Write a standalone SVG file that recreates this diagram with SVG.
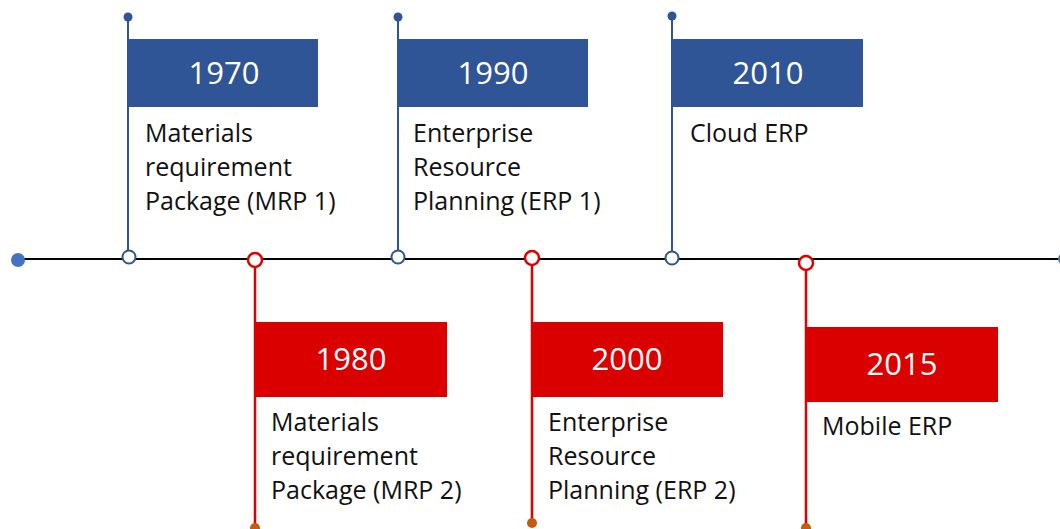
<svg xmlns="http://www.w3.org/2000/svg" width="1060" height="529" viewBox="0 0 1060 529">
<style>
.bl{stroke:#2F5597;stroke-width:2;fill:none}
.rd{stroke:#E00000;stroke-width:2.5;fill:none}
.bbox{fill:#2F5597}
.rbox{fill:#DA0000}
.yr{font-family:"Open Sans","Liberation Sans",sans-serif;font-size:31px;fill:#fff;text-anchor:middle}
.lb{font-family:"Open Sans","Liberation Sans",sans-serif;font-size:25px;fill:#111}
.oc-b{fill:#fff;stroke:#2F5597;stroke-width:2}
.oc-r{fill:#fff;stroke:#E00000;stroke-width:2.5}
.td{fill:#2F5597}
.bd{fill:#C55A11}
</style>
<g id="connectors">
<line x1="18" y1="259" x2="1060" y2="259" stroke="#000" stroke-width="2"/>
<circle cx="18" cy="260" r="7" fill="#4472C4"/>
<circle cx="1064" cy="259" r="6" fill="#4472C4"/>
<line class="bl" x1="128" y1="17" x2="128" y2="251"/>
<line class="bl" x1="398" y1="17" x2="398" y2="251"/>
<line class="bl" x1="672" y1="16" x2="672" y2="251"/>
<line class="rd" x1="255" y1="267" x2="255" y2="527"/>
<line class="rd" x1="532" y1="266" x2="532" y2="523"/>
<line class="rd" x1="806" y1="269" x2="806" y2="527"/>
</g>
<g id="n1970">
<circle class="td" cx="128" cy="17" r="4.5"/>
<rect class="bbox" x="128" y="39" width="190" height="68"/>
<text class="yr" x="224" y="84">1970</text>
<text class="lb" x="145" y="142">Materials</text>
<text class="lb" x="145" y="176">requirement</text>
<text class="lb" x="145" y="210">Package (MRP 1)</text>
<circle class="oc-b" cx="129" cy="257" r="6.5"/>
</g>
<g id="n1990">
<circle class="td" cx="398" cy="17" r="4.5"/>
<rect class="bbox" x="398" y="39" width="190" height="68"/>
<text class="yr" x="493" y="84">1990</text>
<text class="lb" x="413" y="142">Enterprise</text>
<text class="lb" x="413" y="176">Resource</text>
<text class="lb" x="413" y="210">Planning (ERP 1)</text>
<circle class="oc-b" cx="398" cy="257" r="6.5"/>
</g>
<g id="n2010">
<circle class="td" cx="672" cy="16" r="4.5"/>
<rect class="bbox" x="673" y="39" width="190" height="68"/>
<text class="yr" x="768" y="84">2010</text>
<text class="lb" x="690" y="142">Cloud ERP</text>
<circle class="oc-b" cx="672" cy="258" r="6.5"/>
</g>
<g id="n1980">
<circle class="oc-r" cx="255" cy="260" r="7"/>
<rect class="rbox" x="255" y="322" width="192" height="75"/>
<text class="yr" x="351" y="370">1980</text>
<text class="lb" x="271" y="431">Materials</text>
<text class="lb" x="271" y="465">requirement</text>
<text class="lb" x="271" y="499">Package (MRP 2)</text>
<circle class="bd" cx="255" cy="528" r="5"/>
</g>
<g id="n2000">
<circle class="oc-r" cx="532" cy="258" r="7"/>
<rect class="rbox" x="532" y="322" width="191" height="75"/>
<text class="yr" x="627" y="370">2000</text>
<text class="lb" x="548" y="431">Enterprise</text>
<text class="lb" x="548" y="465">Resource</text>
<text class="lb" x="548" y="499">Planning (ERP 2)</text>
<circle class="bd" cx="532" cy="523" r="5"/>
</g>
<g id="n2015">
<circle class="oc-r" cx="806" cy="263" r="7"/>
<rect class="rbox" x="806" y="327" width="192" height="75"/>
<text class="yr" x="902" y="375">2015</text>
<text class="lb" x="822" y="435">Mobile ERP</text>
<circle class="bd" cx="806" cy="528" r="5"/>
</g>
</svg>
